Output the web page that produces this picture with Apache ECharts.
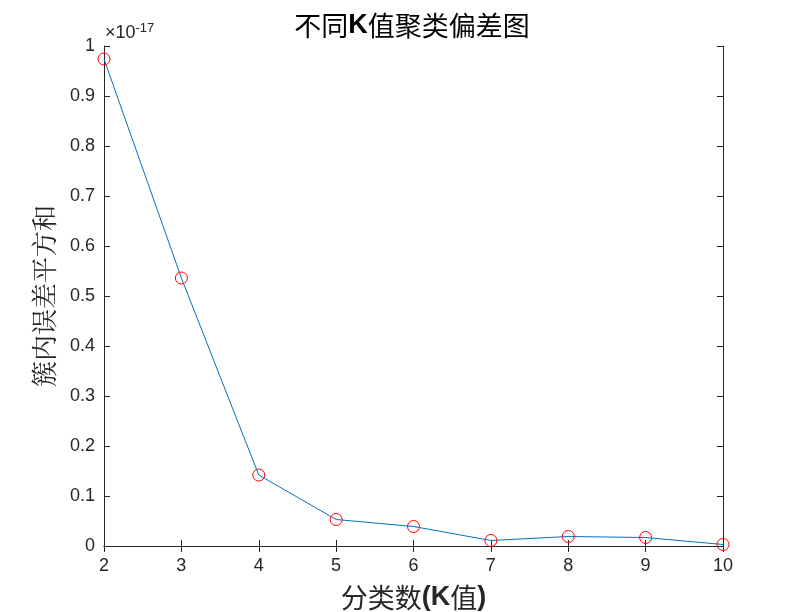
<!DOCTYPE html>
<html>
<head>
<meta charset="utf-8">
<script src="https://cdn.jsdelivr.net/npm/echarts@6/dist/echarts.min.js"></script>
<style>
html, body { margin: 0; padding: 0; background: #fff; }
#chart1 { width: 800px; height: 612px; }
</style>
</head>
<body>
<div id="chart1"></div>
<script>
// K values and within-cluster SSE (units of 1e-17)
var kValues = [2, 3, 4, 5, 6, 7, 8, 9, 10];
var sse = [0.974, 0.536, 0.142, 0.053, 0.039, 0.011, 0.019, 0.017, 0.003];

var axisColor = '#262626';
var tickFont = 'Arial, "Liberation Sans", sans-serif';
var cjkSans = '"Noto Sans CJK SC", sans-serif';
var cjkSerif = '"Noto Serif CJK SC", serif';

var points = kValues.map(function(k, i) { return [k, sse[i]]; });

var chart = echarts.init(document.getElementById('chart1'));
var option = {
    backgroundColor: '#fff',
    animation: false,
    title: {
        text: '{a|不同}{b|K}{a|值聚类偏差图}',
        left: 407,
        textAlign: 'center',
        top: 7,
        textStyle: {
            fontWeight: 'normal',
            rich: {
                a: { fontFamily: cjkSans, fontSize: 27, fontWeight: 'normal', color: '#000' },
                b: { fontFamily: tickFont, fontSize: 27, fontWeight: 'bold', color: '#000' }
            }
        }
    },
    graphic: [{
        type: 'text',
        left: 105,
        top: 22,
        style: {
            text: '{m|×10}{s|-17}',
            rich: {
                m: { fontFamily: tickFont, fontSize: 18, fill: axisColor },
                s: { fontFamily: tickFont, fontSize: 13, fill: axisColor, verticalAlign: 'top', padding: [0, 0, 10, 0] }
            }
        }
    }],
    grid: { left: 104, right: 77, top: 46, bottom: 66, containLabel: false, outerBoundsMode: 'none' },
    xAxis: [{
        type: 'value',
        min: 2, max: 10, interval: 1,
        name: '{a|分类数}{b|(K}{a|值}{b|)}',
        nameLocation: 'middle',
        nameGap: 38,
        nameTextStyle: {
            rich: {
                a: { fontFamily: cjkSans, fontSize: 27, color: axisColor },
                b: { fontFamily: tickFont, fontSize: 27, fontWeight: 'bold', color: axisColor }
            }
        },
        axisLine: { lineStyle: { color: axisColor, width: 1 } },
        axisTick: { inside: true, length: 6, lineStyle: { color: axisColor } },
        axisLabel: { color: axisColor, fontFamily: tickFont, fontSize: 18, margin: 11 },
        splitLine: { show: false }
    }, {
        type: 'value',
        position: 'top',
        min: 2, max: 10, interval: 1,
        axisLine: { lineStyle: { color: axisColor, width: 1 } },
        axisTick: { inside: true, length: 6, lineStyle: { color: axisColor } },
        axisLabel: { show: false },
        splitLine: { show: false }
    }],
    yAxis: [{
        type: 'value',
        min: 0, max: 1, interval: 0.1,
        name: '簇内误差平方和',
        nameLocation: 'middle',
        nameRotate: 90,
        nameGap: 47,
        nameTextStyle: { fontFamily: cjkSerif, fontSize: 26, color: axisColor },
        axisLine: { show: true, lineStyle: { color: axisColor, width: 1 } },
        axisTick: { show: true, inside: true, length: 6, lineStyle: { color: axisColor } },
        axisLabel: {
            color: axisColor, fontFamily: tickFont, fontSize: 18, margin: 9,
            formatter: function(v) { return String(+v.toFixed(1)); }
        },
        splitLine: { show: false }
    }, {
        type: 'value',
        position: 'right',
        min: 0, max: 1, interval: 0.1,
        axisLine: { show: true, lineStyle: { color: axisColor, width: 1 } },
        axisTick: { show: true, inside: true, length: 6, lineStyle: { color: axisColor } },
        axisLabel: { show: false },
        splitLine: { show: false }
    }],
    series: [{
        name: 'SSE',
        type: 'line',
        xAxisIndex: 0,
        yAxisIndex: 0,
        data: points,
        symbol: 'circle',
        symbolSize: 12,
        showAllSymbol: true,
        lineStyle: { color: '#0072BD', width: 1 },
        itemStyle: { color: 'rgba(0,0,0,0)', borderColor: '#ff0000', borderWidth: 1 },
        clip: false
    }]
};
chart.setOption(option, true);
</script>
</body>
</html>
